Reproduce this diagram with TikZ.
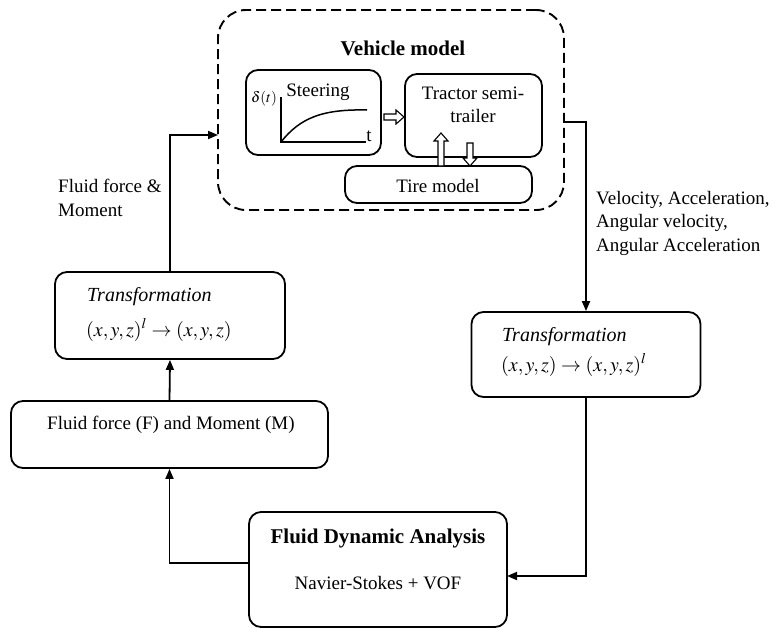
\documentclass[tikz,border=0pt]{standalone}
\usepackage{mathptmx}
\usepackage[no-math]{fontspec}
\setmainfont{Liberation Serif}
\usetikzlibrary{arrows.meta}
\tikzset{
  box/.style={draw, line width=1.8pt, rounded corners=12pt, inner sep=0pt},
  dbox/.style={draw, line width=1.9pt, dash pattern=on 10pt off 5pt, rounded corners=28pt, inner sep=0pt},
  txt/.style={inner sep=0pt, font=\fontsize{19}{23.5}\selectfont, align=left},
  btxt/.style={inner sep=0pt, font=\fontsize{21}{25}\selectfont\bfseries},
  itxt/.style={inner sep=0pt, font=\fontsize{20}{24}\selectfont\itshape},
  mtxt/.style={inner sep=0pt, font=\fontsize{20}{24}\selectfont},
  conn/.style={line width=1.8pt, -{Triangle[length=10pt,width=8pt]}},
  hollow/.style={draw, fill=white, line width=1.1pt},
}
\begin{document}
\begin{tikzpicture}[x=1pt,y=-1pt]
\useasboundingbox (0,0) rectangle (775,629);
% vehicle model
\node[dbox, minimum width=346pt, minimum height=200pt] (vm) at (391,110) {};
\node[btxt] (vmt) at (403,48) {Vehicle model};
\node[box, minimum width=135pt, minimum height=85pt] (st) at (313.5,112.5) {};
\node[box, minimum width=137pt, minimum height=83pt] (tr) at (473.5,115.5) {};
\node[box, minimum width=187pt, minimum height=37pt] (ti) at (438.5,184.5) {};
\node[txt, align=center] (trt) at (473,105) {Tractor semi-\\trailer};
\node[txt] (tit) at (438,186) {Tire model};
\node[txt] (stt) at (318,92) {Steering};
\node[inner sep=0pt, font=\fontsize{15}{18}\selectfont] (dlt) at (264,99) {$\delta(t)$};
\node[txt] (tt) at (369,136) {t};
% steering graph
\coordinate (ax0) at (281,142);
\coordinate (axy) at (281,97);
\coordinate (axx) at (366,142);
\draw[line width=1.5pt] (axy) -- (ax0) -- (axx);
\draw[line width=1.5pt] (ax0) .. controls (300,118) and (322,109) .. (367,110);
% hollow arrows
\draw[hollow] (384,114) -- (396,114) -- (396,110) -- (404,117) -- (396,124) -- (396,120) -- (384,120) -- cycle;
\draw[hollow] (438,166) -- (438,141) -- (434,141) -- (441,133) -- (448,141) -- (444,141) -- (444,166) -- cycle;
\draw[hollow] (467,143) -- (473,143) -- (473,158) -- (477,158) -- (470,166) -- (463,158) -- (467,158) -- cycle;
% left transformation
\node[box, minimum width=230pt, minimum height=87pt] (lt) at (170,315.5) {};
\node[itxt, anchor=west] (ltt) at (87,297) {Transformation};
\node[mtxt, anchor=west] (ltm) at (86,330) {$(x,y,z)^{l}\rightarrow(x,y,z)$};
% fluid force
\node[box, minimum width=317pt, minimum height=67pt] (ff) at (169.5,434.5) {};
\node[txt, anchor=west] (fft) at (47,425) {Fluid force (F) and Moment (M)};
% right transformation
\node[box, minimum width=229pt, minimum height=85pt] (rt) at (586,354.5) {};
\node[itxt, anchor=west] (rtt) at (502,337) {Transformation};
\node[mtxt, anchor=west] (rtm) at (501,365) {$(x,y,z)\rightarrow(x,y,z)^{l}$};
% FDA
\node[box, minimum width=258pt, minimum height=115pt] (fda) at (378,569.5) {};
\node[btxt] (fdat) at (378,538) {Fluid Dynamic Analysis};
\node[txt] (fdan) at (378,583) {Navier-Stokes + VOF};
% labels
\node[txt, anchor=west] (lbl1) at (58,198) {Fluid force \&\\Moment};
\node[txt, anchor=west] (lbl2) at (596,223) {Velocity, Acceleration,\\Angular velocity,\\Angular Acceleration};
% connectors
\coordinate (vmin) at (218,135);
\coordinate (vmout) at (564,122);
\coordinate (fdain) at (507,576);
\coordinate (fdaout) at (249,563);
\draw[conn] (lt.north) |- (vmin);
\draw[conn] (vmout) -| (rt.north);
\draw[conn] (rt.south) |- (fdain);
\draw[conn] (fdaout) -| (ff.south);
\draw[conn] (ff.north) -- (lt.south);
\end{tikzpicture}
\end{document}
